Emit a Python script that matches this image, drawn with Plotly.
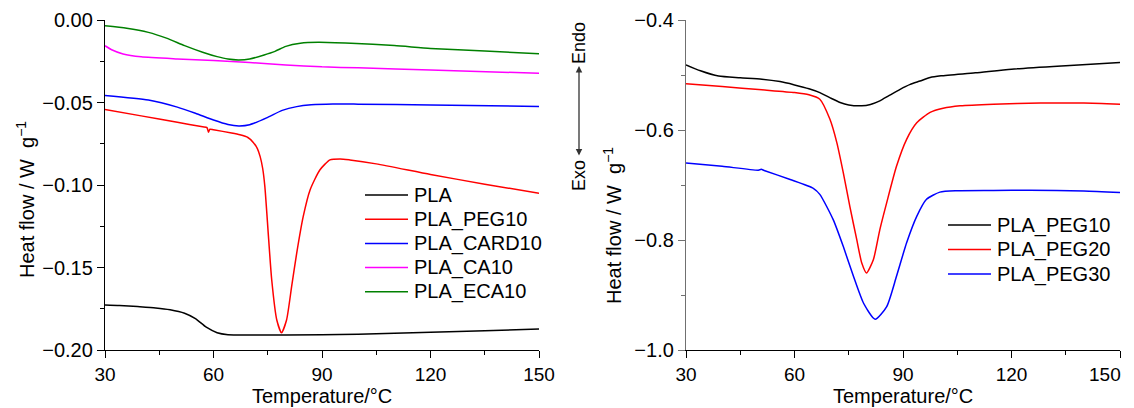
import plotly.graph_objects as go

# ---------------- Left panel data ----------------
pla_T = [30, 34, 39, 44, 48, 52, 55, 58, 61, 64, 70, 90, 100, 110, 120, 135, 150]
pla_v = [-0.1727, -0.1730, -0.1737, -0.1745, -0.1756, -0.1777, -0.1810, -0.1862, -0.1895, -0.1907,
         -0.1909, -0.1908, -0.1905, -0.1899, -0.1893, -0.1883, -0.1873]

peg10_T = [30, 40, 50, 57, 58.2, 58.6, 59.0, 60, 65, 67.3, 69.5, 71, 72.1, 72.9, 73.6, 74.2, 75.2,
           76.1, 77.5, 78.8, 80.2, 81.6, 83, 84.8, 86.7, 89.4, 92.2, 95, 97.7, 105, 120, 135, 150]
peg10_v = [-0.0542, -0.0581, -0.0620, -0.0647, -0.0652, -0.0680, -0.0662, -0.0665, -0.0685, -0.0696,
           -0.0712, -0.0742, -0.0778, -0.0828, -0.0900, -0.1010, -0.1313, -0.1576, -0.1818, -0.1895,
           -0.1818, -0.1616, -0.1414, -0.1192, -0.1030, -0.0909, -0.0848, -0.0842, -0.0848, -0.0872,
           -0.0936, -0.0995, -0.1050]

card10_T = [30, 42, 50, 55, 60, 64, 67, 70, 75, 79, 83, 87, 93, 100, 120, 150]
card10_v = [-0.0457, -0.0485, -0.0528, -0.0565, -0.0606, -0.0633, -0.0642, -0.0635, -0.0590, -0.0548,
            -0.0525, -0.0514, -0.0509, -0.0510, -0.0515, -0.0524]

ca10_T = [30, 32, 35, 40, 50, 60, 70, 80, 90, 100, 120, 150]
ca10_v = [-0.0156, -0.0182, -0.0206, -0.0223, -0.0236, -0.0246, -0.0258, -0.0272, -0.0284, -0.0290,
          -0.0303, -0.0323]

eca10_T = [30, 36, 42, 47, 52, 57, 61, 64, 67, 70, 74, 77, 80, 84, 89, 98, 110, 120, 135, 150]
eca10_v = [-0.0035, -0.0050, -0.0075, -0.0110, -0.0155, -0.0195, -0.0222, -0.0237, -0.0242, -0.0236,
           -0.0212, -0.0190, -0.0160, -0.0141, -0.0135, -0.0141, -0.0155, -0.0172, -0.0188, -0.0204]

# ---------------- Right panel data ----------------
r_peg10_T = [30, 34, 39, 45, 51, 56, 60, 64, 67, 70, 72.6, 75, 78.6, 81, 83.6, 86, 89.2, 92, 94.7,
             97.5, 100.5, 110, 120, 135, 150]
r_peg10_v = [-0.4815, -0.4924, -0.5020, -0.5050, -0.5076, -0.5120, -0.5180, -0.5250, -0.5320, -0.5420,
             -0.5500, -0.5545, -0.5560, -0.5535, -0.5470, -0.5380, -0.5260, -0.5170, -0.5110, -0.5045,
             -0.5015, -0.4960, -0.4894, -0.4830, -0.4772]

r_peg20_T = [30, 40, 51, 60, 64, 67, 69.8, 71.7, 73.5, 75.3, 77.2, 78.6, 79.9, 81.8, 83.6, 85.5, 88.2,
             91, 93.8, 97.5, 101.1, 105.8, 115, 128, 140, 150]
r_peg20_v = [-0.516, -0.521, -0.527, -0.532, -0.536, -0.544, -0.5806, -0.623, -0.678, -0.739, -0.799,
             -0.842, -0.860, -0.836, -0.781, -0.732, -0.666, -0.617, -0.587, -0.568, -0.5605, -0.556,
             -0.553, -0.551, -0.551, -0.553]

r_peg30_T = [30, 40, 50, 50.8, 51.6, 58.8, 65.2, 67, 70.7, 73.5, 76.3, 79.1, 82.3, 85.5, 88.2, 91, 93.8,
             96.5, 100.2, 105, 115, 125, 140, 150]
r_peg30_v = [-0.660, -0.666, -0.673, -0.6715, -0.6735, -0.690, -0.706, -0.717, -0.763, -0.812, -0.866,
             -0.915, -0.944, -0.921, -0.866, -0.805, -0.757, -0.726, -0.713, -0.7105, -0.7100, -0.7095,
             -0.7110, -0.7137]

left_names = ["PLA", "PLA_PEG10", "PLA_CARD10", "PLA_CA10", "PLA_ECA10"]
left_colors = ["#000000", "#ff0000", "#0000ff", "#ff00ff", "#008000"]
right_names = ["PLA_PEG10", "PLA_PEG20", "PLA_PEG30"]
right_colors = ["#000000", "#ff0000", "#0000ff"]

x_ticks = [30, 60, 90, 120, 150]
x_tick_labels = ["30", "60", "90", "120", "150"]

FONT = "Liberation Sans, Arial, Helvetica, sans-serif"
# the page body keeps an 8px margin, so the figure is drawn 8px in from the
# window's top-left corner; size it to reach the window's right/bottom edges
OFF = 8
W, H = 1134 - OFF, 408 - OFF
ML, MR, MT, MB = 105 - OFF, 1134 - 1120, 20 - OFF, 408 - 350


def px_x(px):
    # window x pixel -> paper fraction
    return (px - 105) / 1015.0


def px_y(py):
    # window y pixel -> paper fraction
    return (350 - py) / 330.0


fig = go.Figure()

left_series = [(pla_T, pla_v), (peg10_T, peg10_v), (card10_T, card10_v), (ca10_T, ca10_v), (eca10_T, eca10_v)]
for (T, v), name, col in zip(left_series, left_names, left_colors):
    fig.add_trace(go.Scatter(x=T, y=v, mode="lines", name=name,
                             line=dict(color=col, width=1.5, shape="spline", smoothing=0.6),
                             xaxis="x", yaxis="y", showlegend=False))

right_series = [(r_peg10_T, r_peg10_v), (r_peg20_T, r_peg20_v), (r_peg30_T, r_peg30_v)]
for (T, v), name, col in zip(right_series, right_names, right_colors):
    fig.add_trace(go.Scatter(x=T, y=v, mode="lines", name=name,
                             line=dict(color=col, width=1.5, shape="spline", smoothing=0.6),
                             xaxis="x2", yaxis="y2", showlegend=False))

axis_common = dict(showgrid=False, zeroline=False, showline=True, linewidth=1.3,
                   ticks="outside", ticklen=7, tickwidth=1.3, ticklabeloverflow="allow")
xfont = dict(size=19, color="black", family=FONT)
yfont = dict(size=20, color="black", family=FONT)

# the last right-panel label would run past the window edge: it is drawn as a
# right-aligned annotation instead
right_tick_text = x_tick_labels[:-1] + [""]

fig.update_layout(
    width=W, height=H,
    margin=dict(l=ML, r=MR, t=MT, b=MB, autoexpand=False),
    paper_bgcolor="white", plot_bgcolor="white",
    font=dict(family=FONT, size=20, color="black"),
    showlegend=False,
    xaxis=dict(domain=[0, px_x(539)], range=[30, 150], tickvals=x_ticks, ticktext=x_tick_labels,
               linecolor="black", tickcolor="black", tickfont=xfont,
               minor=dict(dtick=15, tick0=30, ticks="outside", ticklen=4, tickwidth=1.3, tickcolor="black"),
               **axis_common),
    yaxis=dict(domain=[0, 1], range=[-0.2, 0.0], dtick=0.05, tickformat=".2f", linecolor="black",
               tickcolor="black", tickfont=yfont,
               minor=dict(dtick=0.025, ticks="outside", ticklen=4, tickwidth=1.3, tickcolor="black"),
               anchor="x", **axis_common),
    xaxis2=dict(domain=[px_x(686), 1], range=[30, 150], tickvals=x_ticks, ticktext=right_tick_text,
                linecolor="black", tickcolor="black", anchor="y2", tickfont=xfont,
                minor=dict(dtick=15, tick0=30, ticks="outside", ticklen=4, tickwidth=1.3, tickcolor="black"),
                **axis_common),
    yaxis2=dict(domain=[0, 1], range=[-1.0, -0.4], dtick=0.2, tickformat=".1f", linecolor="#707070",
                tickcolor="#707070", anchor="x2", tickfont=yfont,
                minor=dict(dtick=0.1, ticks="outside", ticklen=4, tickwidth=1.3, tickcolor="#707070"),
                **axis_common),
)

ann = []
shapes = []


def add_legend(names, colors, x0, x1, xt, y0, dy):
    for i, (n, c) in enumerate(zip(names, colors)):
        yy = y0 + dy * i
        shapes.append(dict(type="line", xref="paper", yref="paper",
                           x0=px_x(x0), x1=px_x(x1), y0=px_y(yy), y1=px_y(yy),
                           line=dict(color=c, width=1.5)))
        ann.append(dict(text=n, x=px_x(xt), y=px_y(yy), xref="paper", yref="paper",
                        showarrow=False, xanchor="left", yanchor="middle", font=dict(size=20)))


add_legend(left_names, left_colors, 365, 408, 412, 195, 24.2)
add_legend(right_names, right_colors, 948, 991, 995, 225, 24.5)

# last tick label of the right panel
ann.append(dict(text=x_tick_labels[-1], x=px_x(1123), y=px_y(374), xref="paper", yref="paper",
                showarrow=False, font=xfont, xanchor="right", yanchor="middle"))

# x axis titles
ann.append(dict(text="Temperature/°C", x=px_x(322), y=px_y(396), xref="paper", yref="paper",
                showarrow=False, font=dict(size=20), xanchor="center", yanchor="middle"))
ann.append(dict(text="Temperature/°C", x=px_x(903), y=px_y(396), xref="paper", yref="paper",
                showarrow=False, font=dict(size=20), xanchor="center", yanchor="middle"))
# y axis titles
ann.append(dict(text="Heat flow / W  g<sup>−1</sup>", x=px_x(25), y=px_y(200), xref="paper", yref="paper",
                showarrow=False, textangle=-90, font=dict(size=20), xanchor="center", yanchor="middle"))
ann.append(dict(text="Heat flow / W  g<sup>−1</sup>", x=px_x(612), y=px_y(226), xref="paper", yref="paper",
                showarrow=False, textangle=-90, font=dict(size=20), xanchor="center", yanchor="middle"))
# Endo / Exo
ann.append(dict(text="Endo", x=px_x(579), y=px_y(43), xref="paper", yref="paper",
                showarrow=False, textangle=-90, font=dict(size=18), xanchor="center", yanchor="middle"))
ann.append(dict(text="Exo", x=px_x(579), y=px_y(176), xref="paper", yref="paper",
                showarrow=False, textangle=-90, font=dict(size=18), xanchor="center", yanchor="middle"))
ann.append(dict(text="", x=px_x(579), y=px_y(66), xref="paper", yref="paper",
                showarrow=True, ax=0, ay=91, arrowside="end+start", arrowhead=2, startarrowhead=2,
                arrowsize=1, startarrowsize=1, arrowwidth=1.3, arrowcolor="#333333"))

fig.update_layout(annotations=ann, shapes=shapes)

fig.write_html("out.html")
